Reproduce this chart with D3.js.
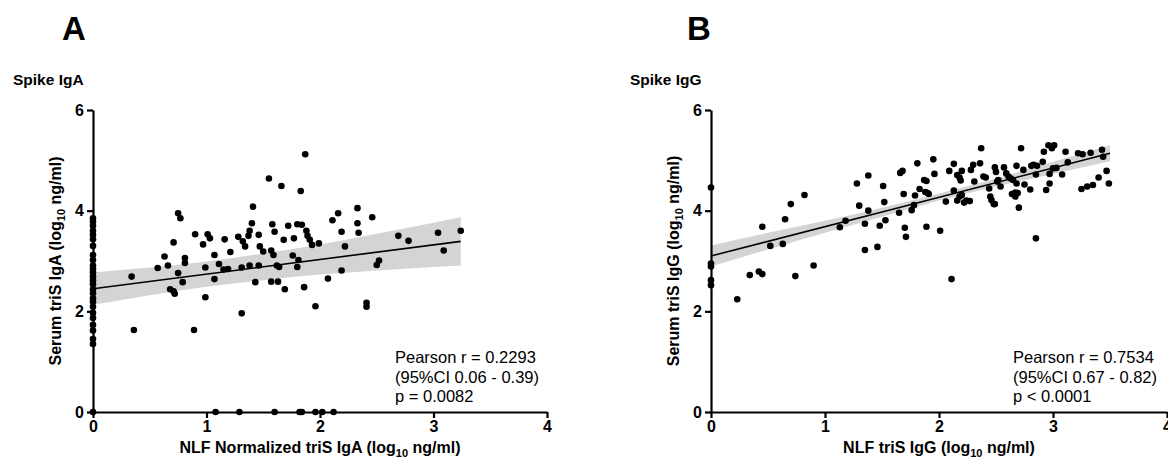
<!DOCTYPE html>
<html>
<head>
<meta charset="utf-8">
<script src="https://cdn.jsdelivr.net/npm/d3@7"></script>
<style>
  body { margin: 0; background: #fff; }
  text { font-family: "Liberation Sans", Arial, sans-serif; }
</style>
</head>
<body>
<div id="canvas"></div>
<script>
/* DATA (log10 ng/ml) */
const spikeIgA = [
  // nasal value 0
  [0,3.85],[0,3.78],[0,3.70],[0,3.60],[0,3.52],[0,3.43],[0,3.30],[0,3.12],[0,3.02],[0,2.91],
  [0,2.84],[0,2.77],[0,2.69],[0,2.62],[0,2.54],[0,2.44],[0,2.36],[0,2.26],[0,2.19],[0,2.09],
  [0,1.97],[0,1.87],[0,1.73],[0,1.62],[0,1.45],[0,1.35],[0,0],
  // serum value 0
  [1.08,0],[1.29,0],[1.60,0],[1.82,0],[1.84,0],[1.96,0],[2.02,0],[2.12,0],
  [0.34,2.69],[0.36,1.63],[0.57,2.86],[0.63,3.09],[0.66,2.91],[0.71,3.37],[0.75,3.95],[0.77,3.85],
  [0.75,2.76],[0.68,2.44],[0.71,2.40],[0.72,2.35],[0.79,2.58],[0.81,3.06],[0.81,2.96],[0.89,1.63],
  [0.90,3.53],[0.97,3.33],[0.99,2.87],[0.99,2.28],[1.01,3.53],[1.03,3.45],[1.07,3.12],[1.07,2.64],
  [1.11,2.94],[1.16,3.43],[1.15,2.83],[1.19,2.84],[1.21,3.18],[1.28,3.48],[1.31,2.87],[1.31,1.96],
  [1.32,3.39],[1.34,3.29],[1.37,3.50],[1.38,3.60],[1.38,2.91],[1.40,3.75],[1.41,4.08],[1.43,2.58],
  [1.46,3.52],[1.46,2.91],[1.47,3.29],[1.50,3.19],[1.55,4.64],[1.58,3.73],[1.57,3.21],[1.59,3.12],
  [1.60,3.58],[1.57,2.59],[1.62,2.91],[1.64,2.88],[1.63,2.59],[1.66,4.49],[1.68,3.42],[1.69,2.44],
  [1.72,3.70],[1.76,3.11],[1.77,3.45],[1.80,2.88],[1.80,3.73],[1.84,3.72],[1.81,3.02],[1.83,4.39],
  [1.87,5.12],[1.86,2.48],[1.88,3.60],[1.89,3.50],[1.91,3.42],[1.93,3.32],[1.99,3.35],[1.96,2.10],
  [2.07,2.65],[2.11,3.81],[2.16,3.95],[2.19,3.58],[2.19,2.81],[2.22,3.29],[2.33,4.05],[2.33,3.75],
  [2.34,3.56],[2.41,2.17],[2.41,2.09],[2.46,3.87],[2.50,2.92],[2.52,3.01],[2.69,3.50],[2.78,3.40],
  [3.04,3.56],[3.09,3.21],[3.24,3.60]
];
const spikeIgG = [
  [0,4.46],[0,2.95],[0,2.89],[0,2.62],[0,2.52],
  [0.23,2.24],[0.34,2.72],[0.42,2.79],[0.45,2.74],[0.45,3.68],[0.52,3.30],[0.63,3.34],[0.65,3.83],
  [0.70,4.13],[0.74,2.70],[0.82,4.31],[0.90,2.91],
  [1.13,3.67],[1.18,3.80],[1.28,4.54],[1.30,4.10],[1.35,3.74],[1.35,3.22],[1.38,4.70],[1.38,4.00],
  [1.46,3.28],[1.48,3.70],[1.51,4.49],[1.52,4.17],[1.53,3.81],[1.65,3.96],[1.66,4.75],[1.68,4.79],
  [1.69,4.33],[1.70,3.66],[1.71,3.48],[1.76,4.01],[1.78,4.11],[1.79,4.30],[1.81,4.94],[1.83,4.43],
  [1.87,4.61],[1.89,4.59],[1.88,4.37],[1.90,4.35],[1.91,4.33],[1.89,3.68],[1.95,5.02],[1.96,4.73],
  [2.01,3.60],[2.06,4.18],[2.09,4.79],[2.11,2.64],[2.13,4.40],[2.13,4.93],[2.16,4.71],[2.18,4.66],
  [2.19,4.60],[2.20,4.79],[2.16,4.20],[2.18,4.28],[2.20,4.31],[2.22,4.16],[2.24,4.20],[2.27,4.19],
  [2.28,4.81],[2.30,4.91],[2.31,4.58],[2.36,4.94],[2.37,5.24],[2.39,4.68],[2.41,4.66],[2.44,4.44],
  [2.45,4.28],[2.46,4.21],[2.48,4.13],[2.49,4.13],[2.49,4.86],[2.50,4.77],[2.51,4.58],[2.52,4.61],
  [2.54,4.48],[2.57,4.86],[2.59,4.74],[2.61,4.68],[2.63,4.64],[2.65,4.61],[2.64,4.33],[2.67,4.36],
  [2.68,4.89],[2.68,4.54],[2.67,4.28],[2.69,4.35],[2.70,4.06],[2.72,5.24],[2.74,4.81],[2.75,4.52],
  [2.80,4.42],[2.81,4.89],[2.83,4.91],[2.86,4.89],[2.85,4.72],[2.85,3.45],
  [2.91,4.97],[2.92,5.17],[2.94,4.41],[2.96,5.30],[2.99,5.24],[3.01,5.30],[2.97,4.54],[2.97,4.73],
  [3.00,4.84],[3.03,4.85],[3.08,4.72],[3.11,5.17],[3.13,4.96],[3.22,5.14],[3.26,5.12],[3.25,4.43],
  [3.30,4.48],[3.35,4.51],[3.33,5.15],[3.40,4.66],[3.43,5.21],[3.44,5.07],[3.47,4.79],[3.49,4.54]
];

// regression lines and 95% bands
const fitAX = [0, 3.24], fitAY = [2.45, 3.39];
const bandAX  = [0, 0.5, 1, 1.5, 2, 2.5, 3, 3.24];
const bandALo = [2.13, 2.32, 2.49, 2.62, 2.73, 2.81, 2.88, 2.91];
const bandAHi = [2.77, 2.87, 2.99, 3.15, 3.33, 3.54, 3.76, 3.87];

const fitBX = [0, 3.5], fitBY = [3.10, 5.14];
const bandBX  = [0, 0.5, 1, 1.5, 2, 2.5, 3, 3.5];
const bandBLo = [2.89, 3.23, 3.56, 3.88, 4.20, 4.48, 4.73, 4.98];
const bandBHi = [3.31, 3.56, 3.80, 4.06, 4.34, 4.64, 4.97, 5.30];

const xTicks = [0, 1, 2, 3, 4];
const yTicks = [0, 2, 4, 6];

const width = 1168, height = 466;
const svg = d3.select('#canvas')
  .append('svg')
    .attr('width', width)
    .attr('height', height);

function drawPanel(p) {
  const x = d3.scaleLinear().domain([0, 4]).range([p.left, p.right]);
  const y = d3.scaleLinear().domain([0, 6]).range([412, 110]);
  const g = svg.append('g');

  // confidence band
  const band = d3.area()
    .x((d, i) => x(p.bandX[i]))
    .y0((d, i) => y(p.bandLo[i]))
    .y1((d, i) => y(p.bandHi[i]))
    .curve(d3.curveMonotoneX);
  g.append('path')
    .datum(p.bandX)
    .attr('d', band)
    .attr('fill', '#d4d4d4');

  // axes
  const fmt = d3.format('d');
  const xAxis = g.append('g')
    .attr('transform', `translate(0,${y(0)})`)
    .call(d3.axisBottom(x).tickValues(xTicks).tickFormat(fmt).tickSize(6).tickSizeOuter(0).tickPadding(3));
  const yAxis = g.append('g')
    .attr('transform', `translate(${x(0)},0)`)
    .call(d3.axisLeft(y).tickValues(yTicks).tickFormat(fmt).tickSize(6).tickSizeOuter(0).tickPadding(3));
  [xAxis, yAxis].forEach(a => {
    a.selectAll('path, line').attr('stroke', '#000').attr('stroke-width', 2.2);
    a.selectAll('text')
      .attr('fill', '#000')
      .style('font-size', '16px')
      .style('font-weight', 'bold');
  });

  // fit line
  g.append('line')
    .attr('x1', x(p.fitX[0])).attr('y1', y(p.fitY[0]))
    .attr('x2', x(p.fitX[1])).attr('y2', y(p.fitY[1]))
    .attr('stroke', '#000')
    .attr('stroke-width', 1.6);

  // points
  g.selectAll('circle')
    .data(p.points)
    .join('circle')
    .attr('cx', d => x(d[0]))
    .attr('cy', d => y(d[1]))
    .attr('r', 3.3)
    .attr('fill', '#000');

  // panel letter and title
  g.append('text')
    .attr('x', p.letterX).attr('y', 40)
    .style('font-size', '33px').style('font-weight', 'bold')
    .text(p.letter);
  g.append('text')
    .attr('x', p.titleX).attr('y', 85)
    .style('font-size', '15.5px').style('font-weight', 'bold')
    .text(p.title);

  // y axis title
  const yt = g.append('text')
    .attr('transform', `translate(${x(0) - 32},${(y(0) + y(6)) / 2}) rotate(-90)`)
    .attr('text-anchor', 'middle')
    .style('font-size', '16px').style('font-weight', 'bold');
  yt.append('tspan').text(p.yLabel + ' (log');
  yt.append('tspan').attr('dy', 4).style('font-size', '11px').text('10');
  yt.append('tspan').attr('dy', -4).text(' ng/ml)');

  // x axis title
  const xt = g.append('text')
    .attr('x', (x(0) + x(4)) / 2)
    .attr('y', 453)
    .attr('text-anchor', 'middle')
    .style('font-size', '16px').style('font-weight', 'bold');
  xt.append('tspan').text(p.xLabel + ' (log');
  xt.append('tspan').attr('dy', 4).style('font-size', '11px').text('10');
  xt.append('tspan').attr('dy', -4).text(' ng/ml)');

  // stats
  g.append('g')
    .selectAll('text')
    .data(p.stats)
    .join('text')
    .attr('x', p.statsX)
    .attr('y', (d, i) => 363 + i * 19.5)
    .style('font-size', '16.5px')
    .text(d => d);
}

drawPanel({
  left: 93, right: 547,
  points: spikeIgA,
  fitX: fitAX, fitY: fitAY,
  bandX: bandAX, bandLo: bandALo, bandHi: bandAHi,
  letter: 'A', letterX: 62,
  title: 'Spike IgA', titleX: 13,
  yLabel: 'Serum triS IgA',
  xLabel: 'NLF Normalized triS IgA',
  statsX: 395,
  stats: ['Pearson r = 0.2293', '(95%CI 0.06 - 0.39)', 'p = 0.0082']
});

drawPanel({
  left: 711, right: 1167,
  points: spikeIgG,
  fitX: fitBX, fitY: fitBY,
  bandX: bandBX, bandLo: bandBLo, bandHi: bandBHi,
  letter: 'B', letterX: 687,
  title: 'Spike IgG', titleX: 630,
  yLabel: 'Serum triS IgG',
  xLabel: 'NLF triS IgG',
  statsX: 1013,
  stats: ['Pearson r = 0.7534', '(95%CI 0.67 - 0.82)', 'p < 0.0001']
});
</script>
</body>
</html>
